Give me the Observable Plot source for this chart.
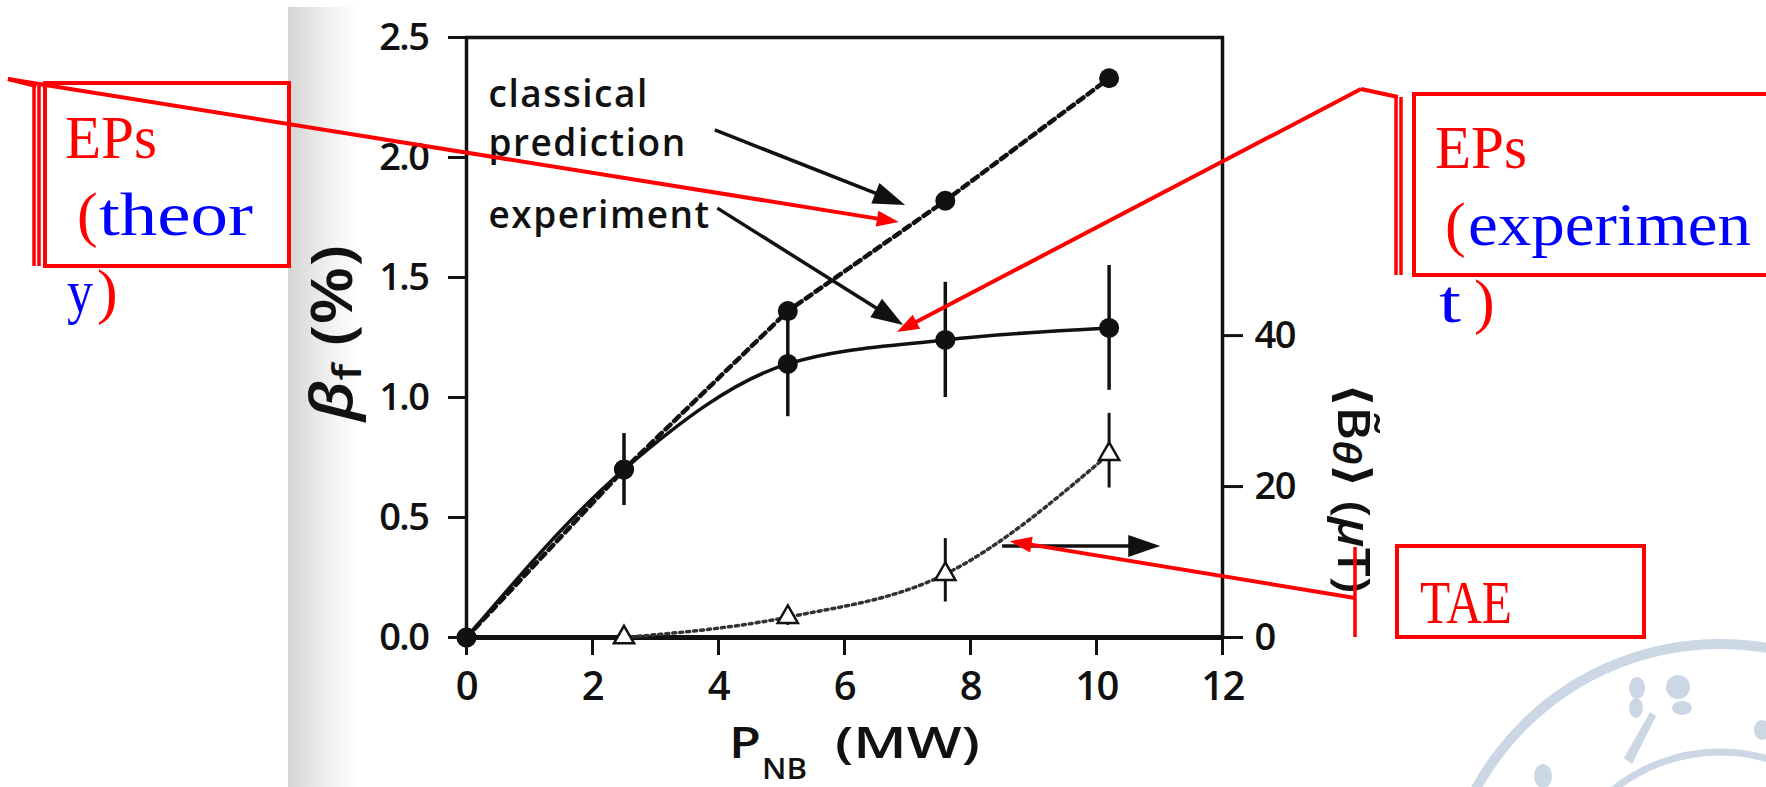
<!DOCTYPE html>
<html lang="en"><head><meta charset="utf-8"><title>beta_f vs P_NB</title>
<script src="https://cdn.jsdelivr.net/npm/d3@7"></script>
<script src="https://cdn.jsdelivr.net/npm/@observablehq/plot@0.6"></script>
<style>
html,body{margin:0;padding:0;background:#fff;}
#wrap{position:relative;width:1766px;height:787px;overflow:hidden;background:#fff;}
#band{position:absolute;left:288px;top:7px;width:74px;height:780px;background:linear-gradient(to right,#d3d4d4 0%,#e3e4e4 30%,#f4f4f4 65%,#ffffff 100%);}
#wm{position:absolute;left:0;top:0;}
#chart{position:absolute;left:0;top:0;}
</style></head>
<body>
<div id="wrap">
  <div id="band"></div>
  <svg id="wm" width="1766" height="787">
    <g fill="none" stroke="#ccd7e5">
      <circle cx="1720" cy="922" r="278" stroke-width="10"></circle>
      <circle cx="1720" cy="922" r="170" stroke-width="7"></circle>
    </g>
    <g fill="#ccd7e5">
      <ellipse cx="1637" cy="688" rx="8" ry="11"></ellipse>
      <ellipse cx="1678" cy="687" rx="12" ry="12"></ellipse>
      <ellipse cx="1682" cy="708" rx="10" ry="7"></ellipse>
      <ellipse cx="1636" cy="708" rx="7" ry="10"></ellipse>
      <path d="M1650,712 L1656,716 L1632,764 L1624,758 Z"></path>
      <ellipse cx="1543" cy="776" rx="9" ry="12"></ellipse>
      <ellipse cx="1762" cy="730" rx="8" ry="10"></ellipse>
    </g>
  </svg>
  <div id="chart"></div>
</div>
<script>
// ---------------- data ----------------
const power        = [0, 2.5, 5.1, 7.6, 10.2];          // P_NB (MW)
const classical    = [0, 0.70, 1.36, 1.82, 2.33];       // beta_f (%) classical prediction
const experiment   = [0, 0.70, 1.14, 1.24, 1.29];       // beta_f (%) experiment
const expLow       = [null, 0.55, 0.92, 1.00, 1.03];
const expHigh      = [null, 0.85, 1.37, 1.48, 1.55];
const taePower     = [2.5, 5.1, 7.6, 10.2];             // P_NB (MW)
const taeAmp       = [0, 2.7, 8.4, 24.3];               // <B~theta> (uT)
const taeLow       = [null, 1.6, 4.7, 19.8];
const taeHigh      = [null, 3.9, 13.1, 29.7];
const xTicks       = [0, 2, 4, 6, 8, 10, 12];
const yTicks       = [0, 0.5, 1.0, 1.5, 2.0, 2.5];
const rightTicks   = [0, 20, 40];
const xDomain      = [0, 12];
const yDomain      = [0, 2.5];
const rightDomain  = [0, 79.5];
const labelTexts   = ["classical\nprediction", "experiment"];
const labelX       = [0.35, 0.35];
const labelY       = [2.008, 1.708];
// pointer arrows of the original figure (data coords; "R" = right axis, uT)
const pointerFrom  = [[3.95, 2.113, "L"], [3.99, 1.787, "L"], [8.51, 12.05, "R"]];
const pointerTo    = [[6.97, 1.80, "L"], [6.94, 1.30, "L"], [11.02, 12.05, "R"]];
// red callout targets (data coords)
const calloutTarget = [[6.87, 1.729, "L"], [6.84, 1.271, "L"], [8.63, 12.7, "R"]];

// ---------------- helpers ----------------
const k = yDomain[1] / rightDomain[1];   // uT -> beta-axis units
const INK = "#111";
const RED = "#ff0000", BLUE = "#0000ff";
const SANS = "'Open Sans','DejaVu Sans',sans-serif";
const SERIF = "'Liberation Serif','Times New Roman',serif";

const classRows = power.map((p, i) => ({p, b: classical[i]}));
const expRows = power.map((p, i) => ({p, b: experiment[i], lo: expLow[i], hi: expHigh[i]}));
const taeRows = taePower.map((p, i) => ({p, v: taeAmp[i], lo: taeLow[i], hi: taeHigh[i]}));
const labelRows = labelTexts.map((t, i) => ({t, x: labelX[i], y: labelY[i]}));

const plot = Plot.plot({
  width: 1766, height: 787,
  marginLeft: 466, marginRight: 544, marginTop: 37, marginBottom: 150,
  style: {background: "transparent", fontFamily: SANS, fontWeight: 600, color: INK},
  x: {domain: xDomain},
  y: {domain: yDomain},
  marks: [
    Plot.axisX({ticks: xTicks, tickSize: 18, tickPadding: 16, fontSize: 40, strokeWidth: 3, label: null, tickFormat: d => String(d)}),
    Plot.axisY({ticks: yTicks, tickSize: 18, tickPadding: 20, fontSize: 38, strokeWidth: 3, label: null, tickFormat: d3.format(".1f")}),
    Plot.axisY({anchor: "right", ticks: rightTicks.map(v => v * k), tickSize: 20, tickPadding: 12, fontSize: 38, strokeWidth: 3, label: null, tickFormat: d => String(Math.round(d / k))}),
    Plot.frame({stroke: INK, strokeWidth: 3.5}),
    Plot.ruleY([0], {stroke: INK, strokeWidth: 5}),
    // TAE (right axis)
    Plot.line(taeRows, {x: "p", y: d => d.v * k, curve: "monotone-x", stroke: "#333", strokeWidth: 3.5, strokeDasharray: "3,4"}),
    Plot.ruleX(taeRows.filter(d => d.lo != null), {x: "p", y1: d => d.lo * k, y2: d => d.hi * k, stroke: INK, strokeWidth: 3}),
    Plot.dot(taeRows, {x: "p", y: d => d.v * k, symbol: "triangle", r: 7.5, fill: "white", stroke: INK, strokeWidth: 2.5}),
    // classical prediction
    Plot.line(classRows, {x: "p", y: "b", stroke: INK, strokeWidth: 4.5, strokeDasharray: "7,5"}),
    // experiment
    Plot.line(expRows, {x: "p", y: "b", curve: "monotone-x", stroke: INK, strokeWidth: 3.5}),
    Plot.ruleX(expRows.filter(d => d.lo != null), {x: "p", y1: "lo", y2: "hi", stroke: INK, strokeWidth: 3.5}),
    Plot.dot(classRows, {x: "p", y: "b", r: 10, fill: INK}),
    Plot.dot(expRows, {x: "p", y: "b", r: 10, fill: INK}),
    Plot.text(labelRows, {x: "x", y: "y", text: "t", textAnchor: "start", lineAnchor: "bottom", lineHeight: 1.3, fontSize: 37, fontWeight: 600, fill: INK})
  ]
});
document.getElementById("chart").appendChild(plot);

function scaleFn(name) {
  const s = plot.scale(name);
  if (s && typeof s.apply === "function") return v => s.apply(v);
  return d3.scaleLinear(s.domain, s.range);
}
const X = scaleFn("x"), Y = scaleFn("y");
const toPx = ([x, y, axis]) => [X(x), Y(axis === "R" ? y * k : y)];

d3.select(plot).selectAll("g[aria-label='text'] text").attr("letter-spacing", "1.5px");
d3.select(plot).selectAll("g[aria-label='y-axis tick label'] text, g[aria-label='x-axis tick label'] text").attr("letter-spacing", "-1.5px");

const g = d3.select(plot).append("g").attr("class", "overlay").attr("text-anchor", "start");

function arrow(sel, p1, p2, color, sw, len, hw) {
  const a = Math.atan2(p2[1] - p1[1], p2[0] - p1[0]);
  const c = Math.cos(a), s = Math.sin(a);
  const bx = p2[0] - len * c, by = p2[1] - len * s;
  sel.append("line").attr("x1", p1[0]).attr("y1", p1[1]).attr("x2", bx + 2 * c).attr("y2", by + 2 * s)
    .attr("stroke", color).attr("stroke-width", sw).attr("stroke-linecap", "butt");
  sel.append("path").attr("d", `M${p2[0]},${p2[1]}L${bx - hw * s},${by + hw * c}L${bx + hw * s},${by - hw * c}Z`).attr("fill", color);
}

// black pointer arrows of the original figure
pointerFrom.forEach((f, i) => arrow(g, toPx(f), toPx(pointerTo[i]), INK, 3.5, 32, 11));

// axis titles
const yt = g.append("text").attr("transform", "translate(352,421) rotate(-90)")
  .attr("font-family", SANS).attr("font-weight", 600).attr("font-size", 58).attr("fill", INK)
  .attr("textLength", 176).attr("lengthAdjust", "spacingAndGlyphs");
yt.append("tspan").attr("font-style", "italic").text("β");
yt.append("tspan").attr("font-size", 40).attr("dy", 9).text("f");
yt.append("tspan").attr("dy", -9).text(" (%)");

g.append("text").attr("x", 729).attr("y", 758).attr("font-family", SANS).attr("font-weight", 600).attr("font-size", 44).attr("fill", INK)
  .attr("textLength", 32).attr("lengthAdjust", "spacingAndGlyphs").text("P");
g.append("text").attr("x", 762).attr("y", 779).attr("font-family", SANS).attr("font-weight", 600).attr("font-size", 29).attr("fill", INK)
  .attr("textLength", 45).attr("lengthAdjust", "spacingAndGlyphs").text("NB");
g.append("text").attr("x", 835).attr("y", 758).attr("font-family", SANS).attr("font-weight", 600).attr("font-size", 44).attr("fill", INK)
  .attr("textLength", 145).attr("lengthAdjust", "spacingAndGlyphs").text("(MW)");

const rt = g.append("text").attr("transform", "translate(1338,383) rotate(90)")
  .attr("font-family", SANS).attr("font-weight", 600).attr("font-size", 46).attr("fill", INK)
  .attr("textLength", 210).attr("lengthAdjust", "spacingAndGlyphs");
rt.append("tspan").text("⟨B\u0303");
rt.append("tspan").attr("font-style", "italic").attr("font-size", 38).attr("dy", 5).text("θ");
rt.append("tspan").attr("dy", -5).text("⟩ (");
rt.append("tspan").attr("font-style", "italic").text("µ");
rt.append("tspan").text("T)");

// red callouts (pixel layout outside the plot frame)
const callouts = [
  {bars: [34, 39], barY: [86, 266], box: [45, 83, 289, 266], legs: [[36, 86], [8, 79]],
   texts: [["EPs", 65, 158, RED, 92], ["(", 77, 235, RED, 0], ["theor", 99, 235, BLUE, 154], ["y", 67, 312, BLUE, 26], [")", 97, 312, RED, 0]]},
  {bars: [1396, 1401], barY: [97, 275], box: [1414, 94, 1790, 275], legs: [[1398, 97], [1361, 89]],
   texts: [["EPs", 1435, 168, RED, 92], ["(", 1445, 245, RED, 0], ["experimen", 1468, 245, BLUE, 283], ["t", 1439, 322, BLUE, 22], [")", 1474, 322, RED, 0]]},
  {bars: [1355], barY: [547, 637], box: [1397, 546, 1644, 637], legs: [[1355, 598]],
   texts: [["TAE", 1420, 623, RED, 92]]}
];
callouts.forEach((c, i) => {
  const cg = g.append("g");
  c.bars.forEach(bx => cg.append("line").attr("x1", bx).attr("x2", bx).attr("y1", c.barY[0]).attr("y2", c.barY[1]).attr("stroke", RED).attr("stroke-width", 3.5));
  cg.append("rect").attr("x", c.box[0]).attr("y", c.box[1]).attr("width", c.box[2] - c.box[0]).attr("height", c.box[3] - c.box[1])
    .attr("fill", "none").attr("stroke", RED).attr("stroke-width", 4);
  if (c.legs.length > 1) cg.append("path").attr("d", `M${c.legs[0][0]},${c.legs[0][1]}L${c.legs[1][0]},${c.legs[1][1]}`).attr("stroke", RED).attr("stroke-width", 4).attr("fill", "none");
  const start = c.legs[c.legs.length - 1];
  arrow(cg, start, toPx(calloutTarget[i]), RED, 4, 22, 8);
  c.texts.forEach(([t, x, y, col, len]) => {
    const te = cg.append("text").attr("x", x).attr("y", y).attr("fill", col).attr("font-family", SERIF)
      .attr("font-weight", 400).attr("font-size", 62).attr("text-anchor", "start").text(t);
    if (len) te.attr("textLength", len).attr("lengthAdjust", "spacingAndGlyphs");
  });
});
</script>
</body></html>
